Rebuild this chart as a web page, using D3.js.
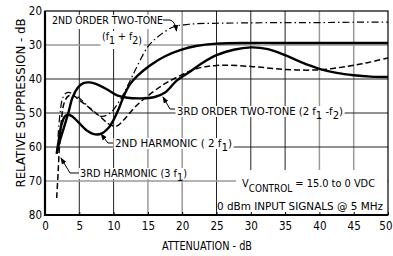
<!DOCTYPE html>
<html>
<head>
<meta charset="utf-8">
<script src="https://cdn.jsdelivr.net/npm/d3@7"></script>
<style>
  html, body { margin: 0; padding: 0; background: #fff; }
  svg { display: block; font-family: "Liberation Sans Narrow", "DejaVu Sans Condensed", "Roboto Condensed", sans-serif; }
</style>
</head>
<body>
<div id="chart"></div>
<script>
// Relative suppression vs attenuation
const attenTicks = [0, 5, 10, 15, 20, 25, 30, 35, 40, 45, 50];
const suppTicks = [20, 30, 40, 50, 60, 70, 80];

// 2nd order two-tone (f1 + f2) - dash dot
const ord2Atten = [1.9, 2.2, 2.6, 3.2, 4.2, 5.5, 7, 8.2, 9.5, 11, 12.4, 13.5, 15, 16.5, 18.7, 21, 25, 30, 35, 40, 45, 50];
const ord2Supp  = [57, 50, 45.5, 44, 44.5, 46.5, 49.5, 51, 50, 46, 40.5, 36, 30.5, 27.5, 24.7, 23.9, 23.6, 23.5, 23.4, 23.4, 23.3, 23.3];

// 3rd order two-tone (2 f1 - f2) - thick solid
const ord3Atten = [1.8, 2.2, 2.8, 3.4, 4.0, 4.8, 5.6, 6.5, 7.5, 9, 10.5, 12, 14, 16, 17.5, 19.2, 21, 23, 25, 27.5, 30, 32.5, 35, 37.5, 40, 42.5, 45, 47.5, 50];
const ord3Supp  = [61, 58, 54, 50, 45.5, 42.5, 41.2, 41, 41.5, 43, 44.8, 45.5, 45.7, 45.3, 44, 40.5, 38, 35.2, 33, 31.4, 30.7, 31.2, 33, 35.2, 37, 38.2, 38.9, 39.3, 39.4];

// 2nd harmonic (2 f1) - thick solid
const harm2Atten = [1.7, 2.0, 2.4, 2.9, 3.4, 4.0, 5.0, 6.0, 7.3, 8.3, 9.2, 10.0, 10.8, 11.6, 12.4, 13.5, 15.3, 17.5, 19.7, 22, 25, 30, 35, 40, 45, 50];
const harm2Supp  = [62, 58, 53.5, 51, 50.5, 51, 53, 55, 56.3, 56, 54.5, 52, 48.5, 44.5, 41.5, 39, 36, 33.3, 31.5, 30.3, 29.6, 29.4, 29.4, 29.4, 29.4, 29.4];

// 3rd harmonic (3 f1) - dashed
const harm3Atten = [1.7, 1.9, 2.1, 2.4, 2.8, 3.4, 4.2, 5.2, 6.5, 8, 9.5, 10.5, 11.5, 13, 14.6, 17, 19.2, 22, 25, 30, 35, 40, 44, 47, 50];
const harm3Supp  = [75, 68, 60, 52, 47, 45, 45, 46.5, 48.5, 51, 53.5, 53.8, 52, 48.5, 45.6, 42, 39.5, 37, 36, 36.3, 37.2, 37.3, 36.3, 35.2, 33.8];

const W = 393, H = 256;
const x = d3.scaleLinear().domain([0, 50]).range([45, 388]);
const y = d3.scaleLinear().domain([20, 80]).range([11, 215]);

const svg = d3.select('#chart').append('svg').attr('width', W).attr('height', H);

const defs = svg.append('defs');
defs.append('marker')
  .attr('id', 'arrow').attr('viewBox', '0 0 8 6')
  .attr('refX', 7).attr('refY', 3)
  .attr('markerWidth', 7).attr('markerHeight', 6)
  .attr('markerUnits', 'userSpaceOnUse')
  .attr('orient', 'auto')
  .append('path').attr('d', 'M0,0L8,3L0,6Z').attr('fill', '#000');

const gridG = svg.append('g');
const maskG = svg.append('g');
const curveG = svg.append('g');
const textG = svg.append('g');

// grid (some lines came out grey in the scan)
const greyX = [15, 20, 40, 45];
const greyY = [30, 70];
gridG.selectAll('line.gx')
  .data(attenTicks.slice(1, -1)).join('line')
  .attr('x1', d => x(d)).attr('x2', d => x(d))
  .attr('y1', y(20)).attr('y2', y(80))
  .attr('stroke', d => greyX.includes(d) ? '#9a9a9a' : '#222')
  .attr('stroke-width', d => greyX.includes(d) ? 1.5 : 1);
gridG.selectAll('line.gy')
  .data(suppTicks.slice(1, -1)).join('line')
  .attr('x1', x(0)).attr('x2', x(50))
  .attr('y1', d => y(d)).attr('y2', d => y(d))
  .attr('stroke', d => greyY.includes(d) ? '#9a9a9a' : '#222')
  .attr('stroke-width', d => greyY.includes(d) ? 1.5 : 1);

// curves
const line = d3.line()
  .x(d => x(d[0])).y(d => y(d[1]))
  .curve(d3.curveCatmullRom.alpha(0.5));

function drawCurve(xs, ys, width, dash) {
  curveG.append('path')
    .datum(xs.map((a, i) => [a, ys[i]]))
    .attr('d', line)
    .attr('fill', 'none')
    .attr('stroke', '#000')
    .attr('stroke-width', width)
    .attr('stroke-linejoin', 'round')
    .attr('stroke-dasharray', dash);
}
drawCurve(ord2Atten, ord2Supp, 1.2, '7,3,1.5,3');
drawCurve(harm3Atten, harm3Supp, 1.5, '6,3');
drawCurve(harm2Atten, harm2Supp, 2.4, null);
drawCurve(ord3Atten, ord3Supp, 2.4, null);

// frame + axes
const xAxis = svg.append('g').attr('transform', `translate(0,${y(80)})`)
  .call(d3.axisBottom(x).tickValues(attenTicks).tickSize(-3).tickPadding(7));
const yAxis = svg.append('g').attr('transform', `translate(${x(0)},0)`)
  .call(d3.axisLeft(y).tickValues(suppTicks).tickSize(0).tickPadding(3));
[xAxis, yAxis].forEach(a => {
  a.select('.domain').remove();
  a.selectAll('text').attr('font-size', 11.5).attr('fill', '#000')
    .attr('font-family', '"Liberation Sans Narrow","DejaVu Sans Condensed",sans-serif');
  a.selectAll('line').attr('stroke', '#000');
});
// last x label sits just inside the window
xAxis.selectAll('.tick').filter(d => d === 50).select('text')
  .attr('text-anchor', 'end').attr('x', 4);

svg.append('rect')
  .attr('x', x(0)).attr('y', y(20))
  .attr('width', x(50) - x(0)).attr('height', y(80) - y(20))
  .attr('fill', 'none').attr('stroke', '#000').attr('stroke-width', 1.2);
svg.append('line').attr('x1', x(0)).attr('x2', x(0)).attr('y1', y(20)).attr('y2', y(80) + 1)
  .attr('stroke', '#000').attr('stroke-width', 2.2);
svg.append('line').attr('x1', x(0) - 1).attr('x2', x(50)).attr('y1', y(80)).attr('y2', y(80))
  .attr('stroke', '#000').attr('stroke-width', 2.2);

// axis titles
svg.append('text')
  .attr('x', 162).attr('y', 250)
  .attr('font-size', 11.5).attr('textLength', 90).attr('lengthAdjust', 'spacingAndGlyphs')
  .text('ATTENUATION - dB');
svg.append('text')
  .attr('transform', 'translate(25,103) rotate(-90)')
  .attr('text-anchor', 'middle')
  .attr('font-size', 11.5).attr('textLength', 169).attr('lengthAdjust', 'spacingAndGlyphs')
  .text('RELATIVE SUPPRESSION - dB');

// annotation labels: parts are [text, isSubscript]
function label(px, py, len, parts, padBottom) {
  const t = textG.append('text').attr('x', px).attr('y', py).attr('font-size', 11);
  let off = 0;
  parts.forEach(([s, sub]) => {
    const target = sub ? 4 : 0;
    t.append('tspan').attr('dy', target - off).text(s);
    off = target;
  });
  if (len) t.attr('textLength', len).attr('lengthAdjust', 'spacingAndGlyphs');
  const bb = t.node().getBBox();
  maskG.append('rect')
    .attr('x', bb.x - 1.5).attr('y', py - 9)
    .attr('width', bb.width + 3).attr('height', 11 + (padBottom || 0))
    .attr('fill', '#fff');
  return t;
}

label(52, 24, 111, [['2ND ORDER TWO-TONE', false]], 3);
label(102, 40, 40, [['(f', false], ['1', true], [' + f', false], ['2)', true]], 7);
label(177, 115, 166, [['3RD ORDER TWO-TONE (2 f', false], ['1', true], [' -f', false], ['2', true], [')', false]], 0);
label(115, 147, 117, [['2ND HARMONIC ( 2 f', false], ['1', true], [')', false]], 0);
label(80, 177, 107, [['3RD HARMONIC (3 f', false], ['1', true], [')', false]], 0);

// conditions note
maskG.append('rect').attr('x', 236).attr('y', 170).attr('width', 151).attr('height', 27).attr('fill', '#fff');
maskG.append('rect').attr('x', 219).attr('y', 197).attr('width', 168).attr('height', 17).attr('fill', '#fff');
const vc = textG.append('text').attr('x', 242).attr('y', 187).attr('font-size', 11)
  .attr('textLength', 133).attr('lengthAdjust', 'spacingAndGlyphs');
vc.append('tspan').text('V');
vc.append('tspan').attr('dy', 5).attr('font-size', 10).text('CONTROL');
vc.append('tspan').attr('dy', -5).text(' = 15.0 to 0 VDC');
textG.append('text').attr('x', 217).attr('y', 210).attr('font-size', 11)
  .attr('textLength', 166).attr('lengthAdjust', 'spacingAndGlyphs')
  .text('0 dBm  INPUT SIGNALS @ 5 MHz');

// leader arrows
const leaders = [
  'M163,20 L170,20 Q175,21 176.5,31',
  'M175,109 L170,109 L163,97',
  'M113,143 L108,143 L101,134',
  'M79,173 L70,173 L61,158'
];
textG.selectAll('path.lead').data(leaders).join('path')
  .attr('d', d => d)
  .attr('fill', 'none').attr('stroke', '#000').attr('stroke-width', 1)
  .attr('marker-end', 'url(#arrow)');
</script>
</body>
</html>
